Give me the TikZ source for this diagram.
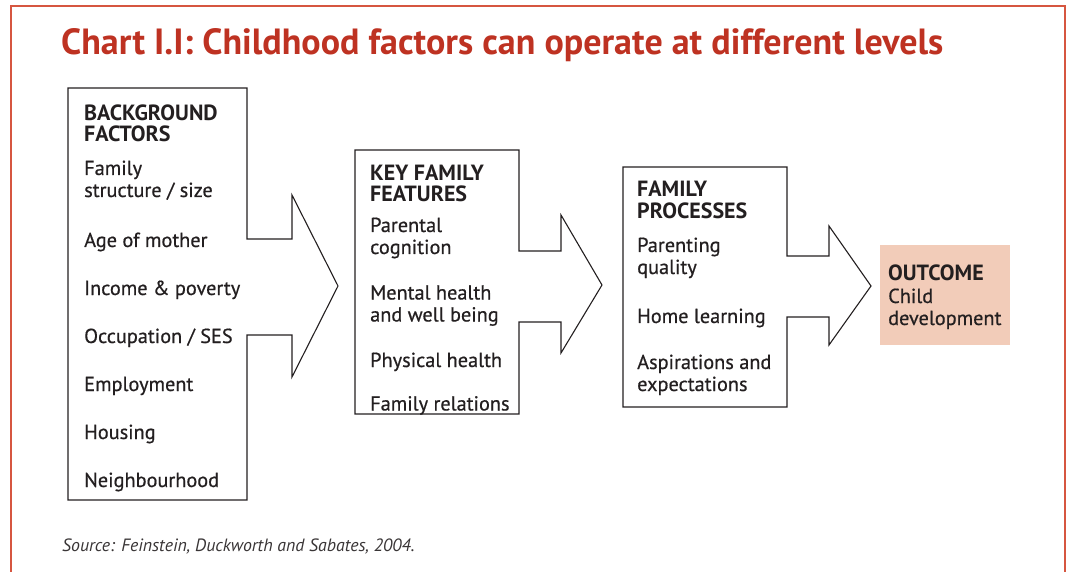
\documentclass[tikz,border=0pt]{standalone}
\usepackage{fontspec}
\setmainfont{PT Sans}
\newfontfamily\bodyfont{PT Sans}[FakeBold=0.6]
\definecolor{titlered}{RGB}{190,50,34}
\definecolor{framered}{RGB}{214,86,64}
\definecolor{ink}{RGB}{35,31,32}
\definecolor{outfill}{RGB}{242,204,185}
\begin{document}
\begin{tikzpicture}[x=1pt,y=-1pt,
  item/.style={anchor=base west, inner sep=0pt, text=ink, font=\bodyfont\fontsize{20.3}{22}\selectfont},
  head/.style={anchor=base west, inner sep=0pt, text=ink, font=\fontsize{22}{22}\selectfont\bfseries},
  outline/.style={draw=ink, line width=1.1pt, line join=miter},
  frameline/.style={draw=framered, line width=2pt}]
\useasboundingbox (0,0) rectangle (1066,572);
% frame
\draw[frameline] (11,572) -- (11,6.5) -- (1065,6.5) -- (1065,572);
% title
\node[anchor=base west, inner sep=0pt, text=titlered] (title) at (61,54.5)
  {\resizebox{882pt}{26pt}{\bfseries Chart I.I: Childhood factors can operate at different levels}};
% box outlines with arrows
\draw[outline] (68,88) -- (247,88) -- (247,239) -- (292,239) -- (292,195) -- (338,286)
  -- (292,377) -- (292,335) -- (247,335) -- (247,500) -- (68,500) -- cycle;
\draw[outline] (355,150) -- (519,150) -- (519,251) -- (561,251) -- (561,215) -- (602,285)
  -- (561,353) -- (561,322) -- (519,322) -- (519,414) -- (355,414) -- cycle;
\draw[outline] (623,167) -- (787,167) -- (787,256) -- (829,256) -- (829,226) -- (871,286)
  -- (829,345) -- (829,317) -- (787,317) -- (787,407) -- (623,407) -- cycle;
\fill[outfill] (880,245) rectangle (1010,345);
% box 1 text
\node[head] (bgh1) at (84,121) {BACKGROUND};
\node[head] (bgh2) at (84,141.5) {FACTORS};
\node[item] (bg1a) at (84,175) {Family};
\node[item] (bg1b) at (84,197) {structure / size};
\node[item] (bg2) at (84,247) {Age of mother};
\node[item] (bg3) at (84,295) {Income \& poverty};
\node[item] (bg4) at (84,343) {Occupation / SES};
\node[item] (bg5) at (84,391) {Employment};
\node[item] (bg6) at (84,439) {Housing};
\node[item] (bg7) at (84,487) {Neighbourhood};
% box 2 text
\node[head] (kfh1) at (370,181) {KEY FAMILY};
\node[head] (kfh2) at (370,201.5) {FEATURES};
\node[item] (kf1a) at (370,232) {Parental};
\node[item] (kf1b) at (370,254) {cognition};
\node[item] (kf2a) at (370,299.5) {Mental health};
\node[item] (kf2b) at (370,321.5) {and well being};
\node[item] (kf3) at (370,367) {Physical health};
\node[item] (kf4) at (370,410.5) {Family relations};
% box 3 text
\node[head] (fph1) at (637,197) {FAMILY};
\node[head] (fph2) at (637,218.5) {PROCESSES};
\node[item] (fp1a) at (637,252) {Parenting};
\node[item] (fp1b) at (637,274) {quality};
\node[item] (fp2) at (637,323) {Home learning};
\node[item] (fp3a) at (637,369) {Aspirations and};
\node[item] (fp3b) at (637,391) {expectations};
% outcome
\node[head] (outh) at (888,280) {OUTCOME};
\node[item] (out1) at (888,303) {Child};
\node[item] (out2) at (888,325) {development};
% source
\node[anchor=base west, inner sep=0pt, text=ink!90, font=\fontsize{17.8}{19}\selectfont\itshape] (src) at (62,551.5)
  {Source: Feinstein, Duckworth and Sabates, 2004.};
\end{tikzpicture}
\end{document}
